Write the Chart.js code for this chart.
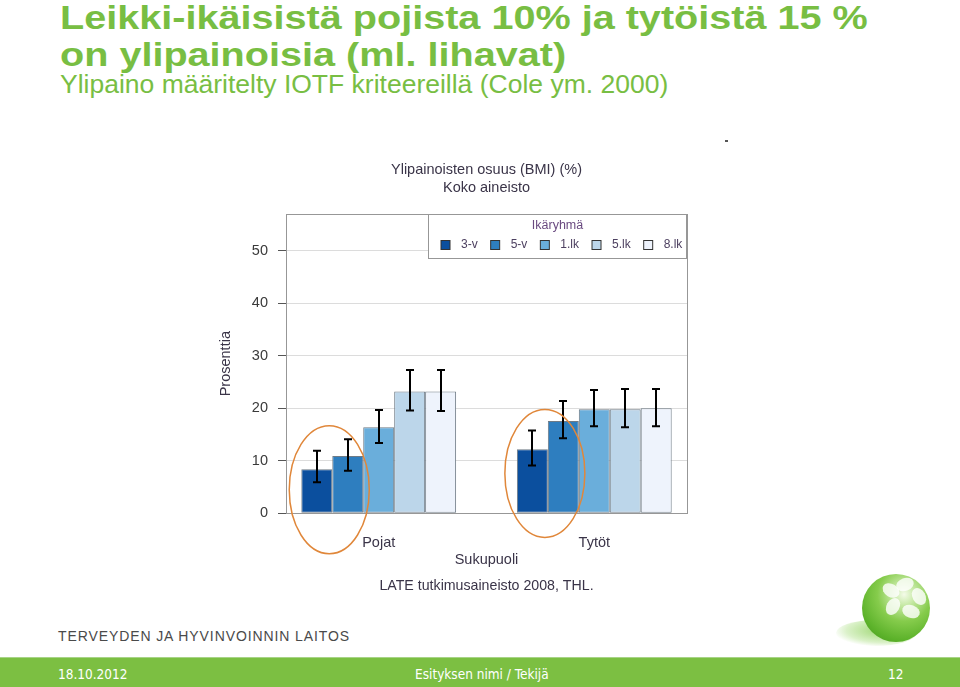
<!DOCTYPE html>
<html lang="fi">
<head>
<meta charset="utf-8">
<title>Ylipainoisten osuus</title>
<script src="https://cdn.jsdelivr.net/npm/chart.js@4.4.0/dist/chart.umd.min.js"></script>
<style>
  html, body { margin: 0; padding: 0; }
  body {
    width: 960px; height: 687px; position: relative; overflow: hidden;
    background: #fff; font-family: "Liberation Sans", Arial, sans-serif;
  }
  .title {
    position: absolute; left: 60px; top: 0px; margin: 0;
    font-size: 33px; line-height: 36.6px; font-weight: bold; color: #78be43;
    white-space: nowrap; transform: scaleX(1.2); transform-origin: 0 0;
  }
  .subtitle {
    position: absolute; left: 60px; top: 69px; margin: 0;
    font-size: 26.5px; line-height: 30px; color: #78be43; white-space: nowrap;
  }
  #chartBox { position: absolute; left: 200px; top: 155px; width: 500px; height: 450px; }
  .dash { position: absolute; left: 725px; top: 140px; width: 3px; height: 2px; background: #555; }
  .org {
    position: absolute; left: 58px; top: 628px; font-size: 14px; letter-spacing: 0.9px;
    color: #4a4a4a; white-space: nowrap;
  }
  .footer {
    position: absolute; left: 0; top: 657px; width: 960px; height: 30px;
    background: #7cbf42; border-top: 1px solid #a8d487; box-sizing: border-box;
    color: #fff; font-family: "Liberation Sans Narrow", "DejaVu Sans Condensed", sans-serif;
    font-size: 13.5px;
  }
  .footer span { position: absolute; top: 8px; }
  .logo-shadow {
    position: absolute; left: 836px; top: 620px; width: 80px; height: 26px; border-radius: 50%;
    background: radial-gradient(ellipse at 60% 40%, rgba(120,200,60,0.75) 0%, rgba(150,215,100,0.35) 55%, rgba(255,255,255,0) 75%);
  }
  .logo {
    position: absolute; left: 862px; top: 574px; width: 68px; height: 68px; border-radius: 50%;
    background: radial-gradient(circle at 62% 30%, #f4fbe9 0%, #c4e8a2 18%, #86cc4c 42%, #5cb22a 72%, #3f8f1a 100%);
    overflow: hidden;
  }
  .petal { position: absolute; width: 18px; height: 13px; border-radius: 50%; background: rgba(255,255,255,0.8); }
</style>
</head>
<body>
<h1 class="title">Leikki-ikäisistä pojista 10% ja tytöistä 15 %<br>on ylipainoisia (ml. lihavat)</h1>
<p class="subtitle">Ylipaino määritelty IOTF kriteereillä (Cole ym. 2000)</p>
<div class="dash"></div>
<div id="chartBox"><canvas id="bmiChart" width="500" height="450"></canvas></div>
<div class="org">TERVEYDEN JA HYVINVOINNIN LAITOS</div>
<div class="logo-shadow"></div>
<div class="logo">
  <div class="petal" style="left:34px;top:4px;transform:rotate(-20deg)"></div>
  <div class="petal" style="left:48px;top:16px;transform:rotate(60deg)"></div>
  <div class="petal" style="left:40px;top:31px;transform:rotate(20deg)"></div>
  <div class="petal" style="left:22px;top:26px;transform:rotate(-60deg)"></div>
  <div class="petal" style="left:20px;top:10px;transform:rotate(30deg)"></div>
</div>
<div class="footer">
  <span style="left:58px">18.10.2012</span>
  <span style="left:415px">Esityksen nimi / Tekijä</span>
  <span style="left:888px">12</span>
</div>
<script>
// Luokat ja ikäryhmät
const categories = ['Pojat', 'Tytöt'];
const ageGroups = ['3-v', '5-v', '1.lk', '5.lk', '8.lk'];
const ageColors = ['#0b4f9e', '#2e7ebf', '#6aaedb', '#bcd6ea', '#eef3fc'];

// Ylipainoisten osuus (%) ikäryhmittäin
const boysValues = [8.4, 10.9, 16.4, 23.2, 23.2];
const girlsValues = [12.2, 17.6, 19.8, 19.8, 20.0];

// Luottamusvälit
const boysLower = [5.9, 8.1, 13.4, 19.6, 19.5];
const boysUpper = [11.9, 14.1, 19.7, 27.3, 27.3];
const girlsLower = [9.1, 14.3, 16.6, 16.4, 16.6];
const girlsUpper = [15.8, 21.4, 23.5, 23.7, 23.7];

const yTicks = [0, 10, 20, 30, 40, 50];

// Korostettujen ryhmien (3-v ja 5-v) ellipsien keskikohdat
const highlightCenters = [4.5, 7.6];

const textColor = '#3a3448';
const fontFamily = '"Liberation Sans", Arial, sans-serif';

const datasets = ageGroups.map((label, i) => ({
    label: label,
    data: [{ x: 1, y: boysValues[i] }, { x: 2, y: girlsValues[i] }],
    errLow: [boysLower[i], girlsLower[i]],
    errHigh: [boysUpper[i], girlsUpper[i]],
    backgroundColor: ageColors[i],
    borderColor: '#6f7b86',
    borderWidth: 1,
    borderSkipped: false,
    categoryPercentage: 0.718,
    barPercentage: 1.0
}));

// Plot box border
const frameBox = {
    id: 'frameBox',
    beforeDatasetsDraw(chart) {
        const { ctx, chartArea: a } = chart;
        ctx.save();
        ctx.strokeStyle = '#979797';
        ctx.lineWidth = 1;
        ctx.strokeRect(Math.round(a.left) + 0.5, Math.round(a.top) + 0.5,
            Math.round(a.right - a.left), Math.round(a.bottom - a.top));
        ctx.restore();
    }
};

// Error bars from errLow / errHigh
const errorBars = {
    id: 'errorBars',
    afterDatasetsDraw(chart) {
        const { ctx } = chart;
        const yScale = chart.scales.y;
        ctx.save();
        ctx.strokeStyle = '#000';
        ctx.lineWidth = 2;
        chart.data.datasets.forEach((ds, i) => {
            chart.getDatasetMeta(i).data.forEach((bar, j) => {
                const x = Math.round(bar.x);
                const yLo = yScale.getPixelForValue(ds.errLow[j]);
                const yHi = yScale.getPixelForValue(ds.errHigh[j]);
                ctx.beginPath();
                ctx.moveTo(x, yLo);
                ctx.lineTo(x, yHi);
                ctx.moveTo(x - 4, yLo);
                ctx.lineTo(x + 4, yLo);
                ctx.moveTo(x - 4, yHi);
                ctx.lineTo(x + 4, yHi);
                ctx.stroke();
            });
        });
        ctx.restore();
    }
};

// Orange ellipses around the two youngest groups
const highlight = {
    id: 'highlight',
    afterDatasetsDraw(chart) {
        const { ctx } = chart;
        const yScale = chart.scales.y;
        const m0 = chart.getDatasetMeta(0).data;
        const m1 = chart.getDatasetMeta(1).data;
        ctx.save();
        ctx.strokeStyle = '#e0873a';
        ctx.lineWidth = 1.5;
        highlightCenters.forEach((v, j) => {
            const cx = (m0[j].x + m1[j].x) / 2 - 3;
            const cy = yScale.getPixelForValue(v);
            ctx.beginPath();
            ctx.ellipse(cx, cy, 40, 64, 0, 0, Math.PI * 2);
            ctx.stroke();
        });
        ctx.restore();
    }
};

// Legend box inside the plot, top right
const boxLegend = {
    id: 'boxLegend',
    afterDatasetsDraw(chart) {
        const { ctx, chartArea: a } = chart;
        const left = Math.round(a.right) - 258.5;
        const top = Math.round(a.top) + 0.5;
        const w = 258, h = 44;
        ctx.save();
        ctx.fillStyle = '#fff';
        ctx.fillRect(left, top, w, h);
        ctx.strokeStyle = '#979797';
        ctx.lineWidth = 1;
        ctx.strokeRect(left, top, w, h);

        ctx.font = '12.5px ' + fontFamily;
        ctx.fillStyle = '#6a4a80';
        ctx.textAlign = 'center';
        ctx.textBaseline = 'middle';
        ctx.fillText('Ikäryhmä', left + w / 2, top + 11);

        ctx.font = '12px ' + fontFamily;
        ctx.textAlign = 'left';
        let x = left + 12.5;
        const y = top + 30.5;
        chart.data.datasets.forEach(ds => {
            ctx.fillStyle = ds.backgroundColor;
            ctx.fillRect(x, y - 4.5, 9, 9);
            ctx.strokeStyle = '#333';
            ctx.strokeRect(x, y - 4.5, 9, 9);
            ctx.fillStyle = '#4d4060';
            ctx.fillText(ds.label, x + 20, y);
            x += 20 + ctx.measureText(ds.label).width + 13;
        });
        ctx.restore();
    }
};

new Chart(document.getElementById('bmiChart'), {
    type: 'bar',
    data: { datasets: datasets },
    options: {
        responsive: false,
        animation: false,
        devicePixelRatio: 1,
        layout: { padding: { left: 0, right: 13, top: 0, bottom: 10 } },
        scales: {
            x: {
                type: 'linear',
                min: 0.57,
                max: 2.43,
                offset: false,
                afterBuildTicks: scale => {
                    scale.ticks = categories.map((c, i) => ({ value: i + 1 }));
                },
                afterFit: scale => { scale.height = 60; },
                grid: { display: false, drawTicks: false },
                border: { display: false },
                ticks: {
                    autoSkip: false,
                    maxRotation: 0,
                    padding: 21,
                    color: textColor,
                    font: { size: 14.5, family: fontFamily },
                    callback: value => categories[value - 1]
                },
                title: {
                    display: true,
                    text: 'Sukupuoli',
                    color: textColor,
                    font: { size: 14.5, family: fontFamily },
                    padding: { top: 0, bottom: 4.7 }
                }
            },
            y: {
                min: 0,
                max: 57,
                afterFit: scale => { scale.width = 86; },
                afterBuildTicks: scale => {
                    scale.ticks = yTicks.map(v => ({ value: v }));
                },
                grid: { color: '#dcdcdc', tickColor: '#555', tickLength: 8 },
                border: { display: false },
                ticks: {
                    padding: 10,
                    color: '#3a3a3a',
                    font: { size: 14.5, family: fontFamily }
                },
                title: {
                    display: true,
                    text: 'Prosenttia',
                    color: textColor,
                    font: { size: 14.5, family: fontFamily },
                    padding: { top: 17.3, bottom: 0 }
                }
            }
        },
        plugins: {
            legend: { display: false },
            tooltip: { enabled: false },
            title: {
                display: true,
                fullSize: false,
                text: ['Ylipainoisten osuus (BMI) (%)', 'Koko aineisto'],
                color: textColor,
                font: { size: 14.5, weight: 'normal', family: fontFamily },
                padding: { top: 6.5, bottom: 17.7 }
            },
            subtitle: {
                display: true,
                fullSize: false,
                position: 'bottom',
                text: 'LATE tutkimusaineisto 2008, THL.',
                color: textColor,
                font: { size: 14.2, family: fontFamily },
                padding: { top: 4.6, bottom: 0 }
            }
        }
    },
    plugins: [frameBox, errorBars, highlight, boxLegend]
});
</script>
</body>
</html>
